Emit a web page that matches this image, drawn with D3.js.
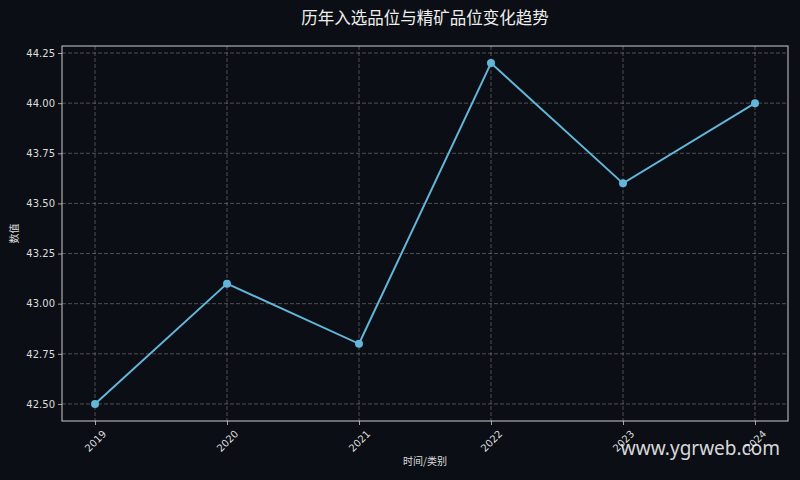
<!DOCTYPE html>
<html>
<head>
<meta charset="utf-8">
<script src="https://cdn.jsdelivr.net/npm/d3@7"></script>
<style>
  html, body { margin: 0; padding: 0; background: #0b0e14; }
  svg { display: block; }
  text { font-family: "DejaVu Sans", "Noto Sans CJK SC", sans-serif; }
</style>
</head>
<body>
<div id="chart"></div>
<script>
// data
const years = [2019, 2020, 2021, 2022, 2023, 2024];
const values = [42.5, 43.1, 42.8, 44.2, 43.6, 44.0];
const yTicks = [42.5, 42.75, 43.0, 43.25, 43.5, 43.75, 44.0, 44.25];

const width = 800;
const height = 480;
const margin = { top: 46, right: 12, bottom: 59, left: 62 };

const bg = "#0b0e14";
const lineColor = "#62b6d9";
const textColor = "#dddddd";

const svg = d3.select("#chart")
    .append("svg")
    .attr("width", width)
    .attr("height", height);

svg.append("rect")
    .attr("width", width)
    .attr("height", height)
    .attr("fill", bg);

// matplotlib style 5% padding on both axes
const x = d3.scaleLinear()
    .domain([2018.75, 2024.25])
    .range([margin.left, width - margin.right]);

const yMin = d3.min(values), yMax = d3.max(values);
const pad = (yMax - yMin) * 0.05;
const y = d3.scaleLinear()
    .domain([yMin - pad, yMax + pad])
    .range([height - margin.bottom, margin.top]);

// grid
const grid = svg.append("g")
    .attr("stroke", "#9a9a9a")
    .attr("stroke-opacity", 0.6)
    .attr("stroke-width", 0.8)
    .attr("stroke-dasharray", "4,2");

grid.selectAll(".vgrid")
    .data(years)
    .enter()
    .append("line")
    .attr("x1", d => x(d))
    .attr("x2", d => x(d))
    .attr("y1", margin.top)
    .attr("y2", height - margin.bottom);

grid.selectAll(".hgrid")
    .data(yTicks)
    .enter()
    .append("line")
    .attr("x1", margin.left)
    .attr("x2", width - margin.right)
    .attr("y1", d => y(d))
    .attr("y2", d => y(d));

// axes
const xAxis = svg.append("g")
    .attr("transform", `translate(0,${height - margin.bottom})`)
    .call(d3.axisBottom(x).tickValues(years).tickFormat(d3.format("d")).tickSize(4));

// rotated labels centred under each tick
xAxis.selectAll("text")
    .attr("y", null)
    .attr("dy", null)
    .attr("fill", textColor)
    .attr("font-size", 10)
    .attr("text-anchor", "middle")
    .attr("dominant-baseline", "central")
    .attr("transform", "translate(0,20) rotate(-45)");

const yAxis = svg.append("g")
    .attr("transform", `translate(${margin.left},0)`)
    .call(d3.axisLeft(y).tickValues(yTicks).tickFormat(d3.format(".2f")).tickSize(4).tickPadding(3));

yAxis.selectAll("text")
    .attr("fill", textColor)
    .attr("font-size", 10);

svg.selectAll(".domain").remove();
svg.selectAll(".tick line").attr("stroke", "#cccccc").attr("stroke-width", 0.8);

// frame
svg.append("rect")
    .attr("x", margin.left)
    .attr("y", margin.top)
    .attr("width", width - margin.left - margin.right)
    .attr("height", height - margin.top - margin.bottom)
    .attr("fill", "none")
    .attr("stroke", "#cccccc")
    .attr("stroke-width", 1);

// line and points
const line = d3.line()
    .x((d, i) => x(years[i]))
    .y(d => y(d));

svg.append("path")
    .datum(values)
    .attr("d", line)
    .attr("fill", "none")
    .attr("stroke", lineColor)
    .attr("stroke-width", 2);

svg.selectAll(".dot")
    .data(values)
    .enter()
    .append("circle")
    .attr("cx", (d, i) => x(years[i]))
    .attr("cy", d => y(d))
    .attr("r", 4)
    .attr("fill", lineColor);

// labels
svg.append("text")
    .attr("x", (margin.left + width - margin.right) / 2)
    .attr("y", 24)
    .attr("text-anchor", "middle")
    .attr("fill", "#eeeeee")
    .attr("font-size", 16.5)
    .style("font-family", "'Noto Sans CJK SC', sans-serif")
    .text("历年入选品位与精矿品位变化趋势");

svg.append("text")
    .attr("x", (margin.left + width - margin.right) / 2)
    .attr("y", 465)
    .attr("text-anchor", "middle")
    .attr("fill", textColor)
    .attr("font-size", 10)
    .style("font-family", "'Noto Sans CJK SC', sans-serif")
    .text("时间/类别");

svg.append("text")
    .attr("transform", `translate(18,${(margin.top + height - margin.bottom) / 2}) rotate(-90)`)
    .attr("text-anchor", "middle")
    .attr("fill", textColor)
    .attr("font-size", 10)
    .style("font-family", "'Noto Sans CJK SC', sans-serif")
    .text("数值");

// watermark
svg.append("text")
    .attr("x", 780)
    .attr("y", 455)
    .attr("text-anchor", "end")
    .attr("fill", "#ffffff")
    .attr("fill-opacity", 0.85)
    .attr("font-size", 19)
    .style("font-family", "'Noto Sans', sans-serif")
    .text("www.ygrweb.com");
</script>
</body>
</html>
